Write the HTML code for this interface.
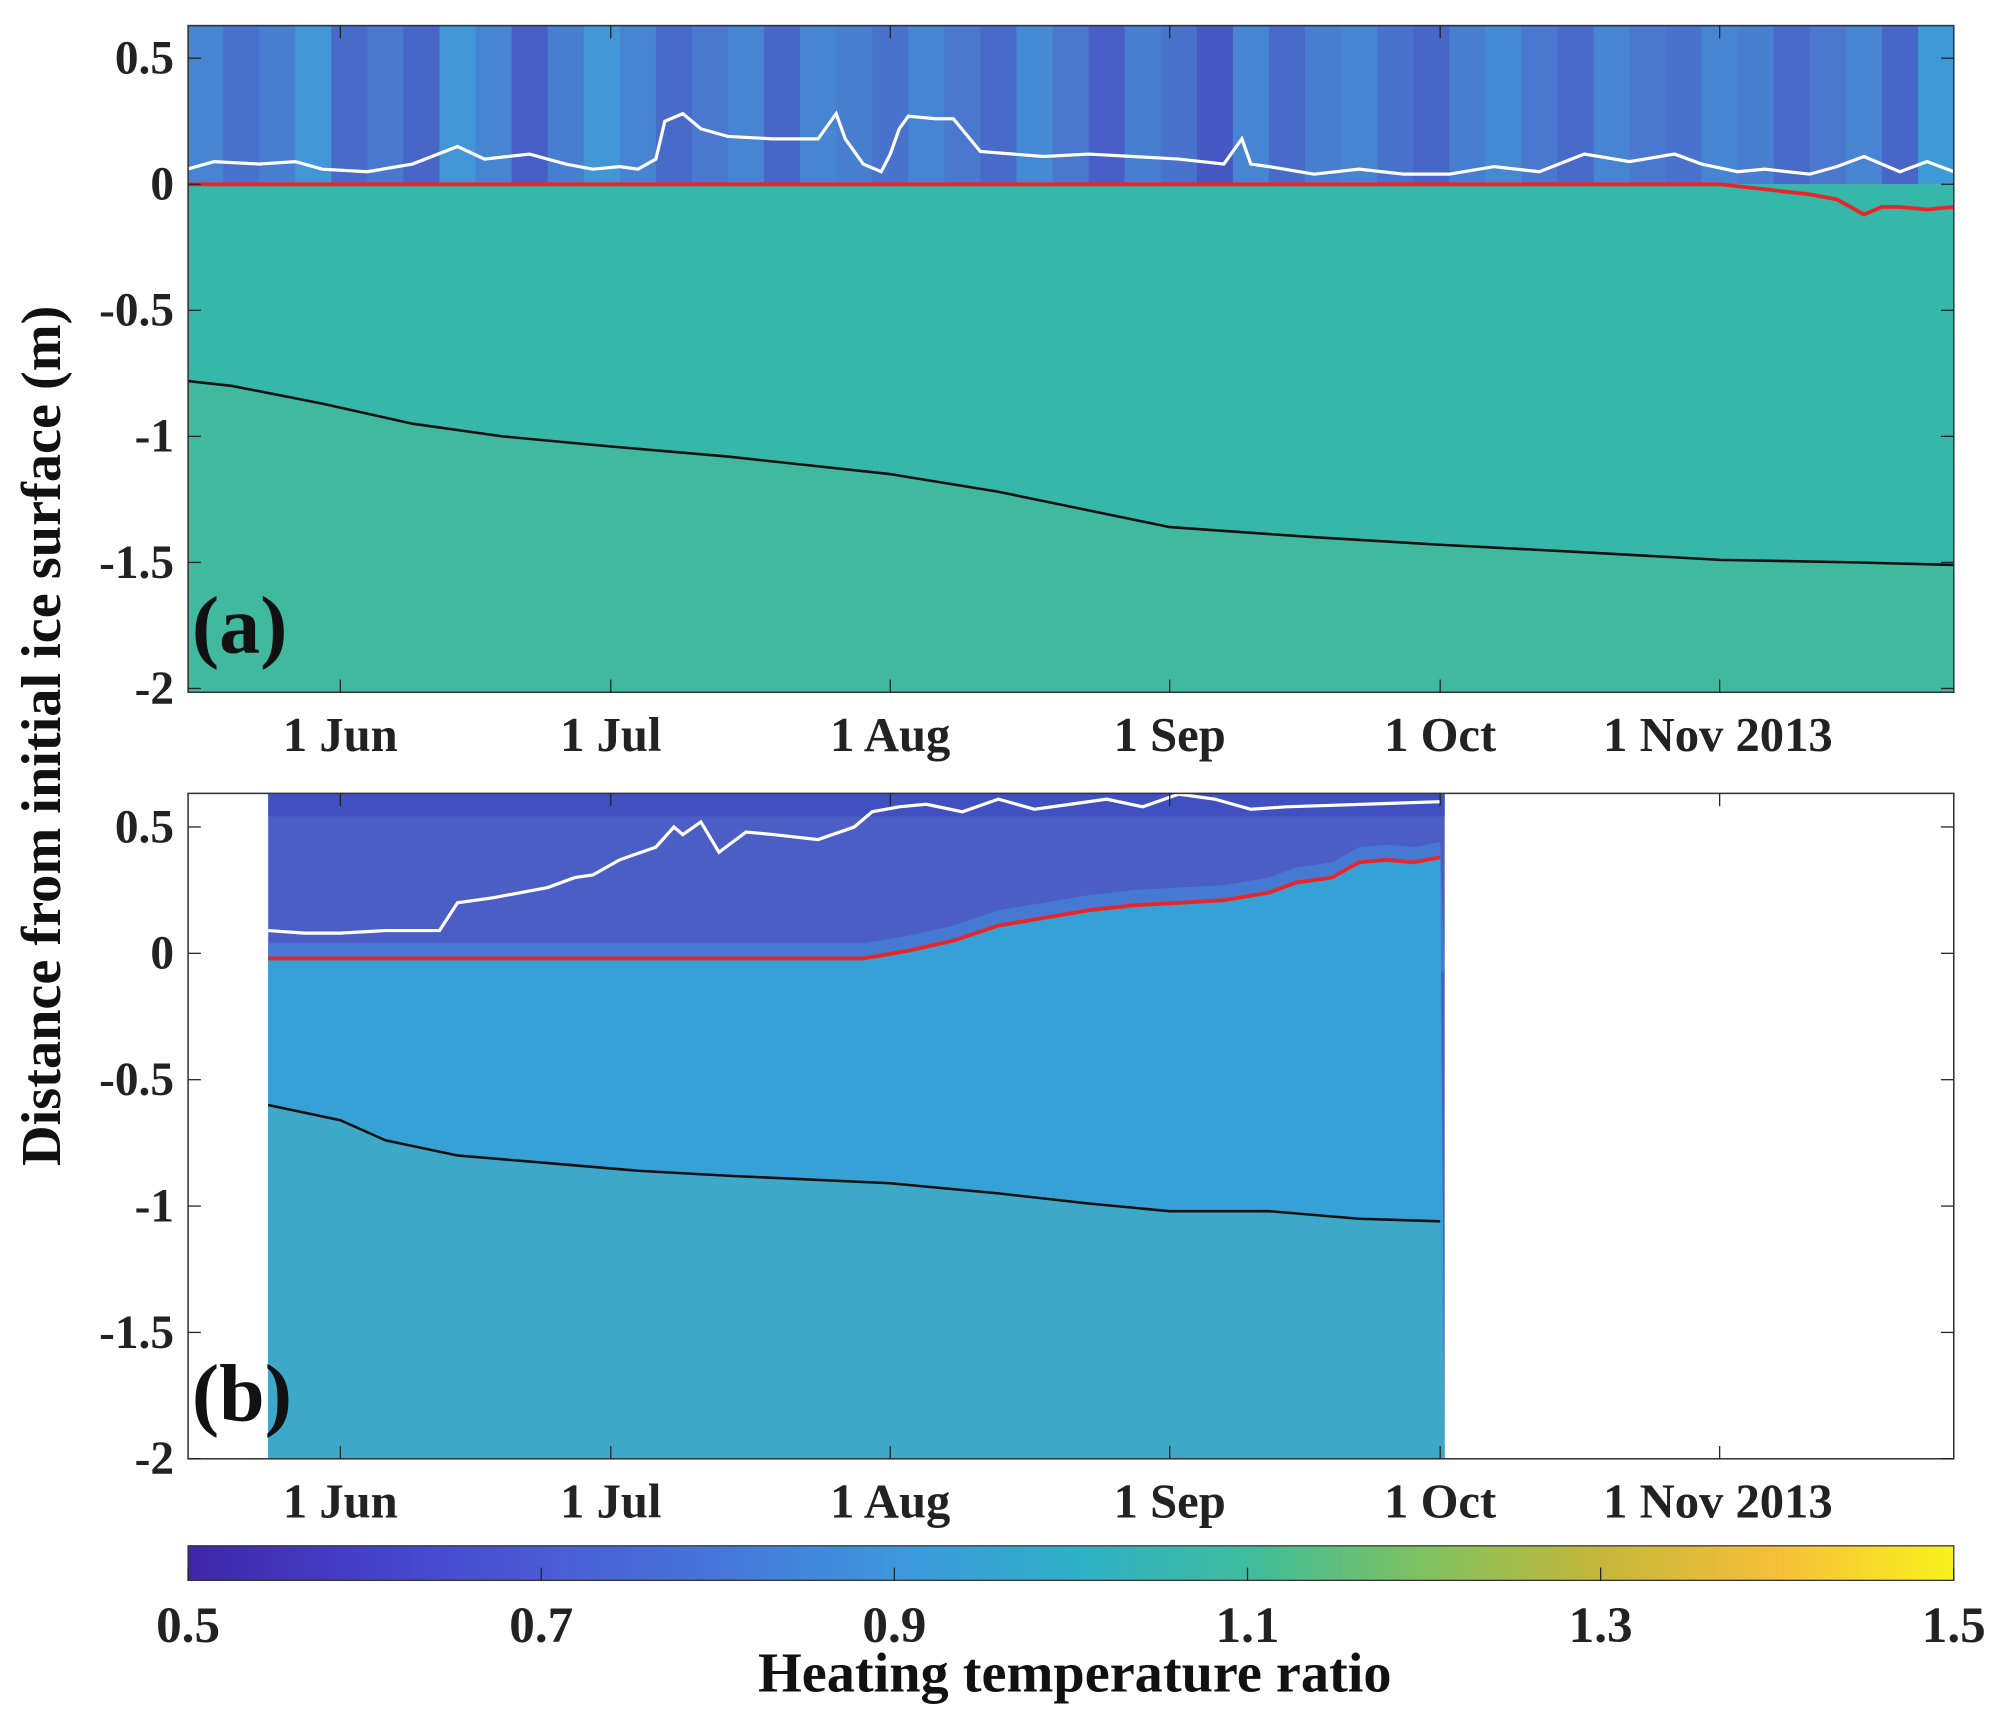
<!DOCTYPE html>
<html><head><meta charset="utf-8"><style>
html,body{margin:0;padding:0;background:#fff;}
svg{display:block;font-family:"Liberation Serif",serif;font-weight:bold;}
</style></head><body>
<svg id="fig" width="1996" height="1716" viewBox="0 0 1560 1341" preserveAspectRatio="none" xmlns="http://www.w3.org/2000/svg">
<defs>
<linearGradient id="parula" x1="0" x2="1" y1="0" y2="0">
<stop offset="0" stop-color="#3e26a8"/><stop offset="0.1" stop-color="#4540c8"/><stop offset="0.2" stop-color="#4a5ad5"/>
<stop offset="0.3" stop-color="#4676d9"/><stop offset="0.4" stop-color="#3d96dc"/><stop offset="0.5" stop-color="#2fb0c8"/>
<stop offset="0.6" stop-color="#3ebc9c"/><stop offset="0.7" stop-color="#80c160"/><stop offset="0.8" stop-color="#c5b73a"/>
<stop offset="0.9" stop-color="#f6bf3a"/><stop offset="1" stop-color="#f8f21c"/></linearGradient>
<clipPath id="clipA"><rect x="147" y="20" width="1380" height="521"/></clipPath>
<clipPath id="clipB"><rect x="147" y="620" width="1380" height="520"/></clipPath>
</defs>
<g id="panelA"></g>
<g id="panelB"></g>
<g id="cbar"></g>
</svg>
<script>
// ---- data (day index: 0 = 15 May 2013) ----
const monthLabels = ["1 Jun","1 Jul","1 Aug","1 Sep","1 Oct","1 Nov 2013"];
const monthDays = [17,47,78,109,139,170];
const yTicks = [0.5,0,-0.5,-1,-1.5,-2];
const yTickLabels = ["0.5","0","-0.5","-1","-1.5","-2"];
const cbTicks = [0.5,0.7,0.9,1.1,1.3,1.5];
// panel a lines
const aSnowDays = [0,3,8,12,15,20,25,30,33,38,42,45,48,50,52,53,55,57,60,65,70,72,73,75,77,78,79,80,83,85,88,95,100,110,115,117,118,120,125,130,135,140,145,150,155,160,165,168,172,175,180,183,186,190,193,196];
const aSnowVals = [0.06,0.09,0.08,0.09,0.06,0.05,0.08,0.15,0.10,0.12,0.08,0.06,0.07,0.06,0.10,0.25,0.28,0.22,0.19,0.18,0.18,0.28,0.18,0.08,0.05,0.12,0.22,0.27,0.26,0.26,0.13,0.11,0.12,0.10,0.08,0.18,0.08,0.07,0.04,0.06,0.04,0.04,0.07,0.05,0.12,0.09,0.12,0.08,0.05,0.06,0.04,0.07,0.11,0.05,0.09,0.05];
const aSurfDays = [0,170,175,180,183,186,188,190,193,196];
const aSurfVals = [0,0,-0.02,-0.04,-0.06,-0.12,-0.09,-0.09,-0.10,-0.09];
const aBaseDays = [0,5,15,25,35,47,60,78,90,109,125,139,155,170,185,196];
const aBaseVals = [-0.78,-0.80,-0.87,-0.95,-1.00,-1.04,-1.08,-1.15,-1.22,-1.36,-1.40,-1.43,-1.46,-1.49,-1.50,-1.51];
// panel a near-surface column values (every 4 days)
const aStripeVals = [0.74,0.68,0.72,0.80,0.66,0.70,0.64,0.80,0.74,0.62,0.72,0.80,0.74,0.66,0.70,0.74,0.64,0.74,0.72,0.68,0.74,0.70,0.66,0.76,0.70,0.62,0.72,0.68,0.60,0.74,0.66,0.72,0.74,0.68,0.64,0.72,0.76,0.70,0.66,0.74,0.70,0.68,0.74,0.72,0.66,0.70,0.74,0.64,0.82];
// panel b lines
const bSnowDays = [9,13,17,22,28,30,34,40,43,45,48,52,54,55,57,59,62,65,70,74,76,79,82,86,90,94,98,102,106,110,114,118,122,139];
const bSnowVals = [0.09,0.08,0.08,0.09,0.09,0.20,0.22,0.26,0.30,0.31,0.37,0.42,0.50,0.47,0.52,0.40,0.48,0.47,0.45,0.50,0.56,0.58,0.59,0.56,0.61,0.57,0.59,0.61,0.58,0.63,0.61,0.57,0.58,0.60];
const bSurfDays = [9,75,80,85,90,95,100,105,110,115,120,123,127,130,133,136,139];
const bSurfVals = [-0.02,-0.02,0.01,0.05,0.11,0.14,0.17,0.19,0.20,0.21,0.24,0.28,0.30,0.36,0.37,0.36,0.38];
const bBaseDays = [9,17,22,30,40,50,60,78,90,100,109,120,130,139];
const bBaseVals = [-0.60,-0.66,-0.74,-0.80,-0.83,-0.86,-0.88,-0.91,-0.95,-0.99,-1.02,-1.02,-1.05,-1.06];
const bStart = 9, bEnd = 139.5;

const NS="http://www.w3.org/2000/svg";
function mk(tag,attrs,parent,text){const e=document.createElementNS(NS,tag);for(const k in attrs)e.setAttribute(k,attrs[k]);if(text!==undefined)e.textContent=text;parent.appendChild(e);return e;}
const X0=146.2, PXD=7.046;
function xs(d){return X0+d*PXD;}
function ysA(v){return 144-v*197;}
function ysB(v){return 745-v*197.5;}
function pts(ds,vs,ys){return ds.map((d,i)=>xs(d).toFixed(1)+","+ys(vs[i]).toFixed(1)).join(" ");}
const stops=[[0.5,[62,38,168]],[0.6,[70,88,196]],[0.7,[74,120,206]],[0.8,[66,150,214]],[0.9,[47,170,215]],[1.0,[52,183,168]],[1.1,[90,190,120]],[1.2,[160,190,60]],[1.3,[240,185,60]],[1.5,[248,242,28]]];
function cmap(v){for(let i=0;i<stops.length-1;i++){const a=stops[i],b=stops[i+1];if(v<=b[0]){const t=Math.max(0,(v-a[0])/(b[0]-a[0]));return "rgb("+a[1].map((c,j)=>Math.round(c+(b[1][j]-c)*t)).join(",")+")";}}return "rgb(248,242,28)";}

function axes(g,top,bot,ys,name){
  mk("rect",{x:147,y:top,width:1380,height:bot-top,fill:"none",stroke:"#333","stroke-width":1.2},g);
  yTicks.forEach((t,i)=>{const y=ys(t);
    mk("line",{x1:147,x2:157,y1:y,y2:y,stroke:"#222"},g);mk("line",{x1:1517,x2:1527,y1:y,y2:y,stroke:"#222"},g);
    const tx=mk("text",{x:136,y:y+12,"text-anchor":"end","font-size":37,fill:"#222"},g,yTickLabels[i]);
    
    });
  monthDays.forEach((d,i)=>{const x=xs(d);
    mk("line",{x1:x,x2:x,y1:top,y2:top+10,stroke:"#222"},g);mk("line",{x1:x,x2:x,y1:bot,y2:bot-10,stroke:"#222"},g);
    const tx=mk("text",{x:x,y:bot+46,"text-anchor":i==5?"start":"middle","font-size":38,fill:"#222"},g,monthLabels[i]);
    if(i==5)tx.setAttribute("x",1253);
    
    });
}

// ---- panel a ----
const A=document.getElementById("panelA");
const ac=mk("g",{"clip-path":"url(#clipA)"},A);
mk("rect",{x:147,y:20,width:1380,height:124,fill:"#4a7ed0"},ac);
aStripeVals.forEach((v,i)=>{const r=mk("rect",{x:xs(i*4),y:20,width:PXD*4+0.5,height:124,fill:cmap(v)},ac);
  
  });
mk("rect",{x:147,y:144,width:1380,height:397,fill:"#35b7aa"},ac);
mk("polygon",{points:pts(aBaseDays,aBaseVals,ysA)+" 1527,541 147,541",fill:"#40b99e"},ac);
mk("polyline",{points:pts(aSnowDays,aSnowVals,ysA),fill:"none",stroke:"#fff","stroke-width":2.5},ac);
mk("polyline",{points:pts(aSurfDays,aSurfVals,ysA),fill:"none",stroke:"#e8262a","stroke-width":3},ac);
mk("polyline",{points:pts(aBaseDays,aBaseVals,ysA),fill:"none",stroke:"#111","stroke-width":2},ac);
axes(A,20,541,ysA,"panel-a");
mk("text",{x:150,y:510,"font-size":64,fill:"#111"},A,"(a)");

// ---- panel b ----
const B=document.getElementById("panelB");
mk("rect",{x:147,y:620,width:1380,height:520,fill:"#fff"},B);
const bc=mk("g",{"clip-path":"url(#clipB)"},B);
const bx0=xs(bStart),bx1=xs(bEnd);
mk("rect",{x:bx0,y:620,width:bx1-bx0,height:520,fill:"#4a5ec6"},bc);
mk("rect",{x:bx0,y:620,width:bx1-bx0,height:18,fill:"#4050c0"},bc);
mk("polygon",{points:pts(bSurfDays,bSurfVals.map(v=>v+0.06),ysB)+" "+bx1+",760 "+bx0+",760",fill:"#4679d2"},bc);
mk("polygon",{points:pts(bSurfDays,bSurfVals,ysB)+" "+bx1+",1140 "+bx0+",1140",fill:"#36a1d6"},bc);
mk("polygon",{points:pts(bBaseDays,bBaseVals,ysB)+" "+bx1+",1140 "+bx0+",1140",fill:"#3ea8c8"},bc);
mk("polyline",{points:pts(bSnowDays,bSnowVals,ysB),fill:"none",stroke:"#fff","stroke-width":2.5},bc);
mk("polyline",{points:pts(bSurfDays,bSurfVals,ysB),fill:"none",stroke:"#e8262a","stroke-width":3},bc);
mk("polyline",{points:pts(bBaseDays,bBaseVals,ysB),fill:"none",stroke:"#111","stroke-width":2},bc);
axes(B,620,1140,ysB,"panel-b");
mk("text",{x:150,y:1110,"font-size":64,fill:"#111"},B,"(b)");

// y title
const yt=mk("text",{x:0,y:0,"font-size":44,fill:"#111","text-anchor":"middle",transform:"translate(47,575) rotate(-90)"},document.getElementById("fig"),"Distance from initial ice surface (m)");



// ---- colorbar ----
const C=document.getElementById("cbar");
mk("rect",{x:147,y:1208,width:1380,height:27,fill:"url(#parula)",stroke:"#333","stroke-width":1},C);
cbTicks.forEach(t=>{const x=147+(t-0.5)*1380;
  mk("line",{x1:x,x2:x,y1:1235,y2:1225,stroke:"#222"},C);
  const tx=mk("text",{x:x,y:1283,"text-anchor":"middle","font-size":40,fill:"#222"},C,t.toFixed(1));
  
  });
mk("text",{x:840,y:1322,"text-anchor":"middle","font-size":44,fill:"#111"},C,"Heating temperature ratio");
</script>
</body></html>
